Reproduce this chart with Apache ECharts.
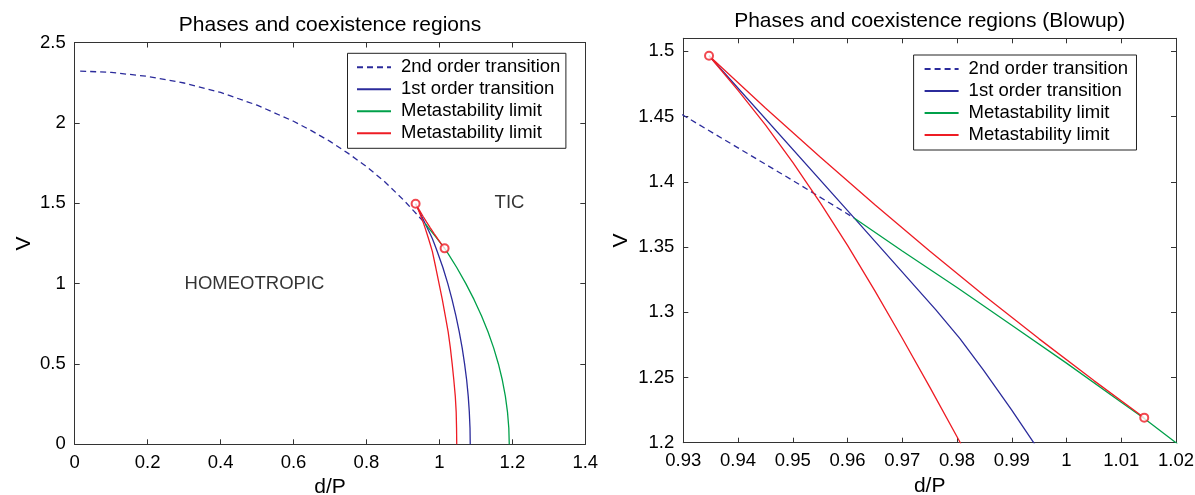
<!DOCTYPE html>
<html><head><meta charset="utf-8">
<script src="https://cdn.jsdelivr.net/npm/echarts@6/dist/echarts.min.js"></script>
<style>html,body{margin:0;padding:0;background:#fff}#c{width:1195px;height:495px}</style>
</head><body><div id="c"></div>
<script>
// ---- data (d/P, V) ----
const secondOrder = [[0.015,2.322],[0.1,2.314],[0.2,2.289],[0.3,2.248],[0.4,2.189],[0.5,2.110],[0.6,2.010],[0.65,1.950],[0.7,1.885],[0.75,1.810],[0.8,1.728],[0.85,1.634],[0.9,1.524],[0.93,1.451],[0.95,1.401],[0.9612,1.3723]];
const firstOrder = [[0.9347,1.4966],[0.9612,1.3723],[0.9761,1.302],[0.9805,1.280],[0.9848,1.2558],[0.990,1.225],[0.994,1.2],[1.0095,1.1],[1.023,1.0],[1.0347,0.9],[1.0451,0.8],[1.0544,0.7],[1.0624,0.6],[1.069,0.5],[1.0747,0.4],[1.079,0.3],[1.082,0.2],[1.0839,0.1],[1.0845,0]];
const metaGreen = [[0.9612,1.3723],[0.97,1.347],[0.98,1.319],[0.99,1.290],[1.0,1.261],[1.01,1.231],[1.0142,1.2185],[1.02,1.200],[1.0475,1.1],[1.0725,1.0],[1.0951,0.9],[1.1153,0.8],[1.1332,0.7],[1.1487,0.6],[1.1618,0.5],[1.1725,0.4],[1.1808,0.3],[1.1867,0.2],[1.1903,0.1],[1.1915,0]];
const metaRed = [[1.0142,1.2192],[1.005,1.2476],[0.995,1.2796],[0.985,1.3127],[0.975,1.3470],[0.965,1.3824],[0.955,1.4190],[0.945,1.4566],[0.9347,1.4966],[0.940,1.4701],[0.945,1.4436],[0.950,1.4148],[0.955,1.3840],[0.960,1.3512],[0.965,1.3164],[0.970,1.2801],[0.975,1.2428],[0.9806,1.200],[0.990,1.1],[0.999,1.0],[1.008,0.9],[1.016,0.8],[1.024,0.7],[1.030,0.6],[1.035,0.5],[1.0395,0.4],[1.0435,0.3],[1.046,0.2],[1.047,0.1],[1.0475,0]];
const endPoints = [[0.9347,1.4966],[1.0142,1.2192]];
const annotationPos = [[0.3,1.0],[1.15,1.5]];
const annotationText = ['HOMEOTROPIC','TIC'];
const seriesNames = ['2nd order transition','1st order transition','Metastability limit','Metastability limit (red)'];
const legendText = ['2nd order transition','1st order transition','Metastability limit','Metastability limit'];
const titles = ['Phases and coexistence regions','Phases and coexistence regions (Blowup)'];
const xRangeL = [0,1.4,0.2], yRangeL = [0,2.5,0.5];
const xRangeR = [0.93,1.02,0.01], yRangeR = [1.2,1.51,0.05];

const FONT = 'Liberation Sans';
const AX = '#333';
const BLUE = '#2b2b9b', GREEN = '#00a04a', RED = '#ee1c24';

function axisPair(dim, g, r, showMaxLabel, nameGap) {
  const base = {type:'value', gridIndex:g, min:r[0], max:r[1], interval:r[2],
    axisLine:{show:true,onZero:false,lineStyle:{color:AX,width:1}},
    axisTick:{show:true,inside:true,length:5,lineStyle:{color:AX,width:1}},
    splitLine:{show:false}};
  const main = Object.assign({}, base, {
    position: dim==='x'?'bottom':'left',
    name: dim==='x'?'d/P':'V', nameLocation:'middle', nameGap:nameGap,
    nameTextStyle:{fontFamily:FONT,fontSize:21,color:'#000'},
    axisLabel:{show:true,margin:9,fontFamily:FONT,fontSize:18.5,color:'#000',showMaxLabel:showMaxLabel}
  });
  const opp = Object.assign({}, base, {position: dim==='x'?'top':'right', axisLabel:{show:false}});
  return [main, opp];
}

function lines(g) {
  const mk = (name, data, color, dashed) => ({type:'line', name, data, xAxisIndex:g*2, yAxisIndex:g*2,
    symbol:'none', showSymbol:false, clip:true, silent:true, animation:false, z:2,
    lineStyle:{color, width:1.3, type: dashed?[6,4]:'solid'}, itemStyle:{color}});
  return [
    mk(seriesNames[0], secondOrder, BLUE, true),
    mk(seriesNames[1], firstOrder, BLUE, false),
    mk(seriesNames[2], metaGreen, GREEN, false),
    mk(seriesNames[3], metaRed, RED, false),
    {type:'scatter', name:'ends', data:endPoints, xAxisIndex:g*2, yAxisIndex:g*2, symbol:'emptyCircle',
     symbolSize:8, clip:true, silent:true, z:3, itemStyle:{color:RED, borderColor:RED, borderWidth:1.2}}
  ];
}

function legendFor(left, top, padding) {
  return {data:seriesNames, orient:'vertical', left, top, padding, itemWidth:34, itemHeight:14, itemGap:2,
    borderColor:'#222', borderWidth:1, backgroundColor:'#fff', selectedMode:false,
    itemStyle:{opacity:0},
    textStyle:{fontFamily:FONT,fontSize:18.5,lineHeight:20,color:'#000',padding:[0,0,0,5]},
    formatter: n => legendText[seriesNames.indexOf(n)]};
}

const chart = echarts.init(document.getElementById('c'), null, {renderer:'canvas'});
const xL = axisPair('x',0,xRangeL,true,31), yL = axisPair('y',0,yRangeL,true,40);
const xR = axisPair('x',1,xRangeR,true,31), yR = axisPair('y',1,yRangeR,false,52);
chart.setOption({
  animation:false,
  backgroundColor:'#fff',
  grid:[
    {left:74.7, top:42.5, width:510.6, height:401.8, outerBoundsMode:'none', containLabel:false},
    {left:683.3, top:38.3, width:492.7, height:404.4, outerBoundsMode:'none', containLabel:false}
  ],
  xAxis:[xL[0],xL[1],xR[0],xR[1]],
  yAxis:[yL[0],yL[1],yR[0],yR[1]],
  legend:[legendFor(347.5,53.3,[4,5.5,5,8.5]), legendFor(913.6,55,[4,8.5,5,10])],
  graphic:[
    {type:'text', x:330, y:25, silent:true, style:{text:titles[0], font:'21px "Liberation Sans"', fill:'#000', align:'center', verticalAlign:'middle', textAlign:'center', textVerticalAlign:'middle'}},
    {type:'text', x:929.7, y:21.7, silent:true, style:{text:titles[1], font:'21px "Liberation Sans"', fill:'#000', align:'center', verticalAlign:'middle', textAlign:'center', textVerticalAlign:'middle'}}
  ],
  series: lines(0).concat(lines(1)).concat([
    {type:'scatter', name:'annotations', data:annotationPos, xAxisIndex:0, yAxisIndex:0, symbolSize:1,
     silent:true, itemStyle:{color:'rgba(0,0,0,0)'},
     label:{show:true, position:'right', distance:0, fontFamily:FONT, fontSize:18.5, color:'#000',
       formatter: p => annotationText[p.dataIndex]}}
  ])
});
</script></body></html>
